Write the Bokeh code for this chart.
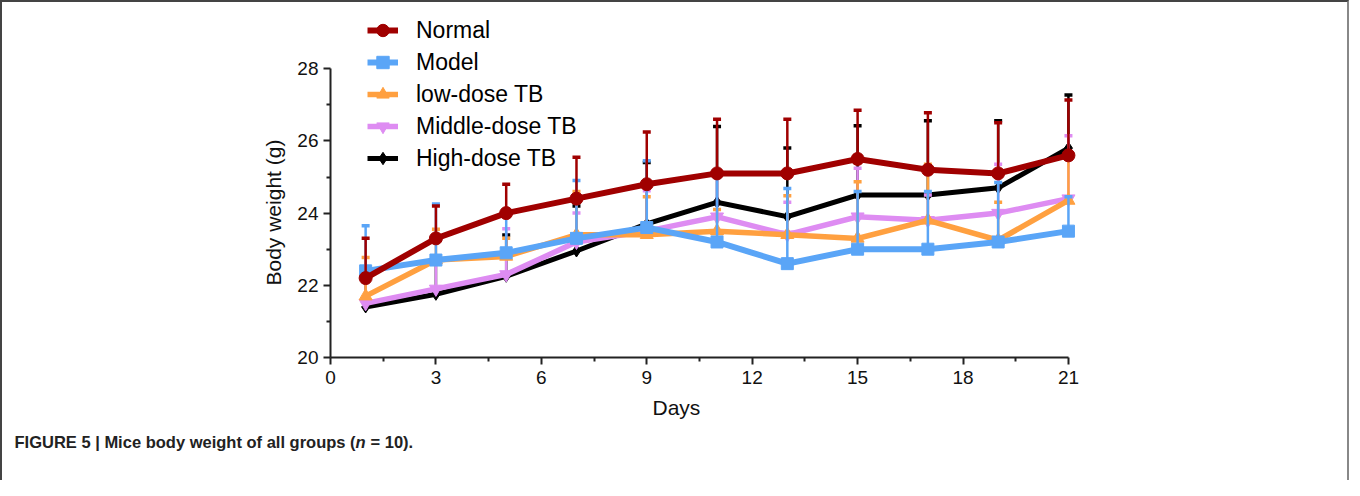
from bokeh.plotting import figure
from bokeh.layouts import column
from bokeh.models import Range1d, FixedTicker, Legend, LegendItem, Title
from bokeh.core.properties import value
from bokeh.embed import file_html
from bokeh.resources import INLINE

# ---- data ----
days = [1, 3, 5, 7, 9, 11, 13, 15, 17, 19, 21]

normal_mean = [22.2, 23.3, 24.0, 24.4, 24.8, 25.1, 25.1, 25.5, 25.2, 25.1, 25.6]
normal_top = [23.3, 24.2, 24.8, 25.55, 26.25, 26.6, 26.6, 26.85, 26.78, 26.5, 27.13]

model_mean = [22.4, 22.7, 22.9, 23.3, 23.6, 23.2, 22.6, 23.0, 23.0, 23.2, 23.5]
model_top = [23.65, 24.25, 23.95, 24.9, 25.45, 25.0, 24.68, 24.6, 24.6, 24.85, 24.45]

low_mean = [21.7, 22.7, 22.8, 23.4, 23.4, 23.5, 23.4, 23.3, 23.8, 23.25, 24.35]
low_top = [22.77, 23.55, 23.3, 24.6, 24.45, 24.1, 24.48, 24.87, 25.35, 24.3, 25.5]

mid_mean = [21.5, 21.9, 22.3, 23.2, 23.5, 23.9, 23.4, 23.9, 23.8, 24.0, 24.4]
mid_top = [22.3, 22.7, 23.57, 24.0, 24.62, 25.0, 24.3, 25.24, 24.5, 25.35, 26.14]

high_mean = [21.4, 21.75, 22.25, 22.95, 23.7, 24.3, 23.9, 24.5, 24.5, 24.7, 25.8]
high_top = [22.2, 22.6, 23.39, 24.2, 25.4, 26.4, 25.8, 26.42, 26.56, 26.56, 27.27]

group_names = ["Normal", "Model", "low-dose TB", "Middle-dose TB", "High-dose TB"]
x_ticks = [0, 3, 6, 9, 12, 15, 18, 21]
x_minor = [1.5, 4.5, 7.5, 10.5, 13.5, 16.5, 19.5]
y_ticks = [20, 22, 24, 26, 28]
y_minor = [21, 23, 25, 27]

x_title = "Days"
y_title = "Body weight (g)"
caption_parts = ["FIGURE 5 | Mice body weight of all groups (", "n", "= 10)."]
caption_styles = ["bold", "bold italic", "bold"]

# ---- styles ----
series = [
    dict(name=group_names[0], mean=normal_mean, top=normal_top, color="#A00000", marker="circle", size=13, lw=6),
    dict(name=group_names[1], mean=model_mean, top=model_top, color="#5AA5F7", marker="square", size=12, lw=6),
    dict(name=group_names[2], mean=low_mean, top=low_top, color="#FFA040", marker="triangle", size=13, lw=5.5),
    dict(name=group_names[3], mean=mid_mean, top=mid_top, color="#DE8CF2", marker="inverted_triangle", size=13, lw=5.5),
    dict(name=group_names[4], mean=high_mean, top=high_top, color="#000000", marker="diamond", size=12, lw=5),
]

FONT = "Liberation Sans"
W = 1345
H_MAIN = 430
H_CAP = 48

p = figure(width=W, height=H_MAIN,
           x_range=Range1d(0, 21.4), y_range=Range1d(20, 29.557),
           output_backend="svg", toolbar_location=None,
           min_border_left=328, min_border_right=265,
           min_border_top=10, min_border_bottom=H_MAIN - 355)
p.frame_align = False
p.outline_line_color = None
p.xgrid.visible = False
p.ygrid.visible = False
p.background_fill_color = "white"
p.border_fill_color = "white"

items = {}
for s in reversed(series):
    c = s["color"]
    p.segment(x0=days, y0=s["mean"], x1=days, y1=s["top"], line_color=c, line_width=2.5)
    p.scatter(x=days, y=s["top"], marker="dash", size=8, line_color=c, line_width=3.5)
    lr = p.line(x=days, y=s["mean"], line_color=c, line_width=s["lw"], line_join="miter")
    mr = p.scatter(x=days, y=s["mean"], marker=s["marker"], size=s["size"],
                   fill_color=c, line_color=c)
    items[s["name"]] = LegendItem(label=s["name"], renderers=[lr, mr])

# legend: location = its bottom-left corner, relative to the frame's bottom-left
legend = Legend(items=[items[n] for n in group_names], location=(37, 183),
                border_line_color=None, background_fill_alpha=0,
                padding=0, margin=0, spacing=0,
                glyph_width=31, glyph_height=32, label_height=32,
                label_standoff=18, label_text_font=FONT,
                label_text_font_size="23px", label_text_color="#000000")
p.add_layout(legend)

for ax in (p.xaxis[0], p.yaxis[0]):
    ax.axis_line_width = 2
    ax.axis_line_color = "#222222"
    ax.major_tick_line_width = 2
    ax.minor_tick_line_width = 2
    ax.major_tick_line_color = "#222222"
    ax.minor_tick_line_color = "#222222"
    ax.major_tick_in = 0
    ax.major_tick_out = 7
    ax.minor_tick_in = 0
    ax.minor_tick_out = 4
    ax.major_label_text_font = FONT
    ax.major_label_text_font_size = "19px"
    ax.major_label_text_color = "#111111"

p.xaxis.ticker = FixedTicker(ticks=x_ticks, minor_ticks=x_minor)
p.yaxis.ticker = FixedTicker(ticks=y_ticks, minor_ticks=y_minor)
p.xaxis.bounds = (0, 21)
p.yaxis.bounds = (20, 28)
p.xaxis.major_label_standoff = 6
p.yaxis.major_label_standoff = 5

# axis titles as side titles, so that they can be placed like the original
p.add_layout(Title(text=y_title, align="left", offset=72, standoff=20,
                   text_font=FONT, text_font_size="21px", text_font_style="normal",
                   text_color="#111111"), "left")
p.add_layout(Title(text=x_title, align="left", offset=322, standoff=15,
                   text_font=FONT, text_font_size="21px", text_font_style="normal",
                   text_color="#111111"), "below")

# caption strip under the chart
cap = figure(width=W, height=H_CAP, x_range=Range1d(0, W), y_range=Range1d(0, H_CAP),
             output_backend="svg", toolbar_location=None,
             min_border=0, x_axis_type=None, y_axis_type=None)
cap.frame_align = False
cap.outline_line_color = None
cap.xgrid.visible = False
cap.ygrid.visible = False
cap_x = [12, 353, 368]
cap_base = 39
for txt, style, xx in zip(caption_parts, caption_styles, cap_x):
    cap.text(x=[xx], y=[cap_base], text=[txt], text_font=value(FONT),
             text_font_size="16.5px", text_font_style=style,
             text_color="#222222", text_baseline="alphabetic", text_align="left")

layout = column(p, cap, spacing=0)
layout.styles = {"border-left": "2px solid #444444",
                 "border-top": "2px solid #444444",
                 "border-right": "2px solid #888888"}

open("out.html", "w").write(file_html(layout, INLINE))
